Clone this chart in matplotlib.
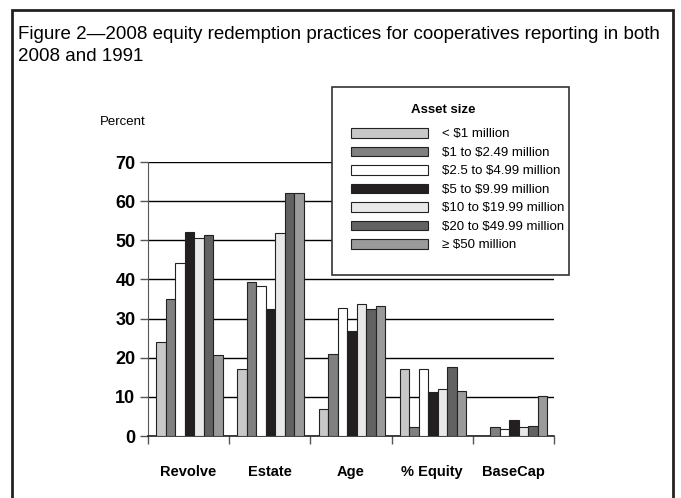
import numpy as np
import matplotlib.pyplot as plt
from matplotlib.patches import Rectangle

# Data
categories = ["Revolve", "Estate", "Age", "% Equity", "BaseCap"]
asset_sizes = ["< $1 million", "$1 to $2.49 million", "$2.5 to $4.99 million",
               "$5 to $9.99 million", "$10 to $19.99 million",
               "$20 to $49.99 million", "\u2265 $50 million"]
under_1m = [24.0, 17.1, 6.9, 17.1, 0.0]
m1_to_2 = [34.9, 39.4, 21.0, 2.4, 2.4]
m2_to_5 = [44.1, 38.4, 32.6, 17.1, 1.9]
m5_to_10 = [52.2, 32.5, 26.8, 11.3, 4.2]
m10_to_20 = [50.5, 51.8, 33.8, 12.1, 2.4]
m20_to_50 = [51.4, 62.0, 32.4, 17.6, 2.6]
over_50m = [20.7, 62.0, 33.3, 11.5, 10.3]
series = [under_1m, m1_to_2, m2_to_5, m5_to_10, m10_to_20, m20_to_50, over_50m]
colors = ["#c8c8c8", "#808080", "#ffffff", "#231f20", "#e8e9e8", "#626262", "#9a9a9a"]

plt.rcParams["font.family"] = ["Liberation Sans", "DejaVu Sans"]
plt.rcParams["text.parse_math"] = False

fig = plt.figure(figsize=(6.81, 4.98), dpi=100)

# outer frame
fig.patches.append(Rectangle((12 / 681, -0.02), (673 - 12) / 681, 1 - 10 / 498 + 0.02,
                             transform=fig.transFigure, fill=False,
                             edgecolor="#222222", linewidth=2))

fig.text(18 / 681, 1 - 26 / 498,
         "Figure 2\u20142008 equity redemption practices for cooperatives reporting in both\n2008 and 1991",
         ha="left", va="top", fontsize=13.5, linespacing=1.42)

ax = fig.add_axes([148 / 681, 1 - 436 / 498, (554 - 148) / 681, (436 - 162) / 498])

x = np.arange(len(categories))
width = 0.117
start = 0.1
for i, (vals, col) in enumerate(zip(series, colors)):
    ax.bar(x + start + i * width, vals, width, align="edge", color=col,
           edgecolor="#222222", linewidth=0.8, label=asset_sizes[i], zorder=3)

ax.set_xlim(0, 5)
ax.set_ylim(0, 70)
ax.set_yticks(range(0, 80, 10))
for t in ax.get_yticklabels():
    t.set_fontweight("bold")
    t.set_fontsize(13)
ax.yaxis.grid(True, color="black", linewidth=1.0, zorder=0)
ax.set_axisbelow(True)
ax.tick_params(axis="y", length=6, width=1, color="#555555", pad=3)

ax.set_xticks(np.arange(0, 6))
ax.set_xticklabels([])
ax.tick_params(axis="x", length=6, width=1, color="#555555")
for i, c in enumerate(categories):
    ax.text(i + 0.5, -7.3, c, ha="center", va="top", fontsize=10.5,
            fontweight="bold")

for s in ["top", "right"]:
    ax.spines[s].set_visible(False)
ax.spines["left"].set_color("#555555")
ax.spines["bottom"].set_color("#222222")
ax.spines["bottom"].set_linewidth(1.2)

fig.text(123 / 681, 1 - 122 / 498, "Percent", ha="center", va="center", fontsize=9.5)

# legend box drawn separately so the padding can match
fig.patches.append(Rectangle((332 / 681, 1 - 275 / 498), (569 - 332) / 681, (275 - 87) / 498,
                             transform=fig.transFigure, facecolor="white",
                             edgecolor="#333333", linewidth=1.2, zorder=2))
fig.text(443 / 681, 1 - 110 / 498, "Asset size", ha="center", va="center",
         fontsize=9.5, fontweight="bold", zorder=5)
leg = fig.legend(loc="upper left", bbox_to_anchor=(351 / 681, 1 - 128 / 498),
                 fontsize=9.5, handlelength=5.85, handleheight=0.75, labelspacing=0.46,
                 handletextpad=1.06, borderpad=0, frameon=False, borderaxespad=0)
leg.set_zorder(5)

fig.savefig("out.png", dpi=100)
